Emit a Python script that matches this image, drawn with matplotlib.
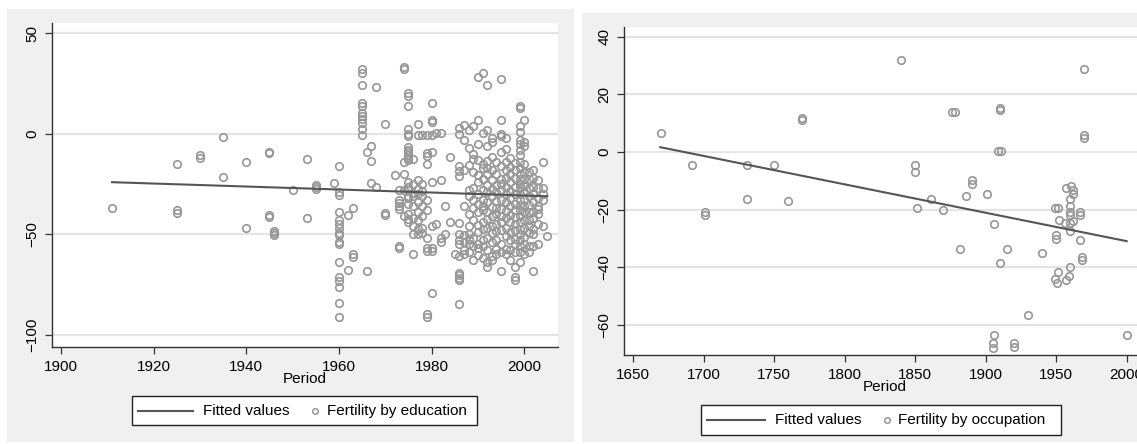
import matplotlib

matplotlib.use("Agg")
import matplotlib.pyplot as plt
from matplotlib.lines import Line2D
from matplotlib.patches import Rectangle

plt.rcParams["font.family"] = ["Liberation Sans", "DejaVu Sans"]

W, H = 1137, 444

# ---------------------------------------------------------------------------
# Left panel: fertility by education (period -> value), grouped by year
# ---------------------------------------------------------------------------
edu_years = [1911, 1925, 1930, 1935, 1940, 1945, 1946, 1950, 1953, 1955, 1959,
             1960, 1962, 1963, 1965, 1966, 1967, 1968, 1970,
             1972, 1973, 1974, 1975, 1976, 1977, 1978, 1979, 1980, 1981, 1982,
             1983, 1984, 1985, 1986, 1987, 1988, 1989, 1990, 1991, 1992, 1993,
             1994, 1995, 1996, 1997, 1998, 1999, 2000, 2001, 2002, 2003, 2004,
             2005]
edu_values = [
    [-37],
    [-15, -38, -39.5],
    [-10.5, -12],
    [-1.5, -21.5],
    [-14, -47],
    [-9, -9.5, -40.5, -41.5],
    [-48.5, -49.5, -50.5],
    [-28],
    [-12.5, -42],
    [-25.5, -26.5, -27.5],
    [-24.5],
    [-16, -29, -30.5, -39, -43, -45, -47, -49.5, -50.5, -54, -55, -64, -71,
     -73, -76, -84, -91],
    [-40.5, -67.5],
    [-37, -60, -61.5],
    [32, 30, 24, 15, 14, 10.5, 9, 7.5, 5.5, 2.5, -0.5],
    [-9, -68],
    [-6, -13.5, -24.5],
    [23, -26.5],
    [5, -39.5, -40.5],
    [-20.5],
    [-28, -33, -34.5, -36, -37.5, -56, -57],
    [33, 32, -14, -20, -28, -41],
    [20, 18.5, 14, 2.5, 0, -1, -6.5, -8, -9, -10.5, -12, -13, -24, -26.5,
     -28, -31, -32, -35, -40, -42.5, -44],
    [-12.5, -25, -29.5, -31, -36, -42, -46, -50, -60],
    [5, -0.5, -23, -27.5, -30, -34, -39, -43, -47.5, -50],
    [-0.5, -25, -28.5, -31, -36, -41, -47, -49.5],
    [-0.5, -9.5, -11, -15, -33, -38, -52, -57, -58.5, -89.5, -91],
    [15, 7, 6, -0.5, -9, -24, -46, -57, -58.5, -79],
    [0.5, -45],
    [0.5, -23, -52, -54],
    [-36, -50],
    [-11.5, -44],
    [-60],
    [3, 0, -16, -18.5, -21, -44.5, -50, -53, -55, -61, -69, -70, -71.5, -72.5,
     -84.5],
    [4.5, -3, -18, -36, -50.5, -54, -58, -60],
    [2, -7, -15.5, -28, -31, -40, -46, -50, -52.5, -55, -59],
    [4, -10, -12.5, -19, -27, -33, -37, -43, -52, -56, -63],
    [28, 7, -5, -13, -20.5, -24, -30, -35, -39, -45.5, -49, -55, -57, -60.5],
    [30, 0.5, -15, -17, -22.5, -28, -33, -36, -38, -44, -47.5, -53, -56, -62],
    [24, 2, -6, -13.5, -17, -20, -25.5, -29, -34, -39, -42.5, -47, -52, -58,
     -64, -66],
    [-2, -4, -11.5, -18, -23, -27.5, -31, -36.5, -41, -46, -49.5, -54, -61,
     -63],
    [-14, -20, -25.5, -29, -33.5, -37, -40, -45, -48.5, -53, -57.5, -60],
    [27, 7, 0, -1, -9, -16, -22.5, -25, -28, -33, -37.5, -41, -44, -48, -55,
     -59, -68],
    [-2, -7.5, -14, -18, -22, -26.5, -30, -34, -38.5, -42, -47, -51, -57.5,
     -60],
    [-12, -16.5, -20, -24, -28.5, -32, -36, -40.5, -44, -49, -53, -58, -63],
    [-14.5, -18, -22, -26.5, -30, -35, -38, -41.5, -45, -48, -52.5, -55,
     -59, -66, -71, -72.5],
    [14, 13, 4, 1, -3, -5, -8, -10.5, -14, -17, -20, -22.5, -25, -27, -30,
     -33, -35.5, -38, -41, -44, -47.5, -50, -53, -56, -59, -64],
    [7, -4, -6, -15, -19, -22.5, -26, -29, -32.5, -36, -39, -43, -47, -51.5,
     -55, -60],
    [-19, -22.5, -27, -31, -35.5, -39, -43, -46, -49.5, -56, -59],
    [-18, -22, -26.5, -30, -34, -39, -42, -47.5, -50, -56, -68],
    [-23, -27, -32, -36, -37.5, -40, -45, -55],
    [-14, -27, -30, -33, -46],
    [-51],
]
edu_fit_x = [1911, 2005]
edu_fit_y = [-24.1, -31.1]

# ---------------------------------------------------------------------------
# Right panel: fertility by occupation
# ---------------------------------------------------------------------------
occ_period = [1670, 1692, 1701, 1701, 1731, 1731, 1750, 1760, 1770, 1770,
              1840, 1850, 1850, 1851, 1861, 1870, 1876, 1878, 1882, 1886,
              1890, 1890, 1901, 1906, 1906, 1905, 1905, 1910, 1910, 1909,
              1911, 1910.5, 1915, 1920, 1920, 1930, 1940, 1949, 1951, 1950,
              1950, 1951, 1949, 1950.5, 1952, 1957, 1960.5, 1962, 1962, 1960,
              1960, 1960, 1960, 1967, 1967, 1956, 1960, 1962, 1960, 1967,
              1968.5, 1968.5, 1960, 1959, 1957, 1970, 1970, 1970, 2000]
occ_value = [6.7, -4.4, -20.8, -22.0, -4.4, -16.2, -4.4, -17.0, 11.0, 11.8,
             31.9, -4.4, -6.9, -19.4, -16.2, -20.1, 13.8, 13.8, -33.5, -15.4,
             -9.8, -11.0, -14.6, -24.9, -63.5, -66.3, -67.8, 14.6, 15.4, 0.3,
             0.3, -38.4, -33.5, -66.4, -67.6, -56.4, -35.1, -19.4, -19.4, -28.9,
             -30.0, -41.5, -44.2, -45.3, -23.4, -12.4, -11.6, -13.2, -14.7, -16.2,
             -18.7, -20.8, -22.0, -20.8, -22.0, -24.5, -24.7, -23.9, -27.4, -30.4,
             -36.4, -37.6, -39.9, -43.0, -44.5, 28.9, 5.0, 6.0, -63.5]
occ_fit_x = [1669.3, 2000]
occ_fit_y = [1.7, -30.9]

edu_ticks_x = [1900, 1920, 1940, 1960, 1980, 2000]
edu_ticks_y = [50, 0, -50, -100]
occ_ticks_x = [1650, 1700, 1750, 1800, 1850, 1900, 1950, 2000]
occ_ticks_y = [40, 20, 0, -20, -40, -60]

PANEL_GREY = "#f0f0f0"
GRID = "#e4e4e4"
MARKER = "#979797"
FIT = "#555555"
AXIS = "#333333"
FS = 11


def px_box(x0, y0, x1, y1):
    """Pixel box (top-left origin) -> figure fraction [left, bottom, w, h]."""
    return [x0 / W, 1 - y1 / H, (x1 - x0) / W, (y1 - y0) / H]


def panel(fig, grey_box, ax_box, xs, ys, fit_x, fit_y, xlim, ylim, xt, yt):
    l, b, w, h = px_box(*grey_box)
    fig.add_artist(Rectangle((l, b), w, h, transform=fig.transFigure,
                             facecolor=PANEL_GREY, edgecolor="none", zorder=0))
    ax = fig.add_axes(px_box(*ax_box))
    ax.set_facecolor("white")
    ax.plot(xs, ys, "o", ms=5.4, mfc="none", mec=MARKER, mew=1.2,
            zorder=3, clip_on=False)
    ax.plot(fit_x, fit_y, color=FIT, lw=1.5, zorder=4)
    ax.set_xlim(*xlim)
    ax.set_ylim(*ylim)
    ax.set_xticks(xt)
    ax.set_yticks(yt)
    for v in yt:
        ax.axhline(v, color=GRID, lw=1.6, zorder=1)
    for s in ("top", "right"):
        ax.spines[s].set_visible(False)
    for s in ("left", "bottom"):
        ax.spines[s].set_color(AXIS)
        ax.spines[s].set_linewidth(1.0)
    ax.tick_params(direction="out", length=5, width=0.9, color=AXIS,
                   labelsize=FS, pad=4)
    for t in ax.get_yticklabels():
        t.set_rotation(90)
        t.set_va("center")
    ax.set_xlabel("Period", fontsize=FS, labelpad=-1)
    return ax


def key(fig, box, line_x, text1_x, marker_x, text2_x, label1, label2):
    x0, y0, x1, y1 = box
    l, b, w, h = px_box(*box)
    fig.add_artist(Rectangle((l, b), w, h, transform=fig.transFigure,
                             facecolor="white", edgecolor="#222222", lw=1.0,
                             zorder=5))
    ym = 1 - (y0 + y1) / 2 / H
    fig.add_artist(Line2D([line_x[0] / W, line_x[1] / W], [ym, ym],
                          transform=fig.transFigure, color=FIT, lw=1.5,
                          zorder=6))
    fig.add_artist(Line2D([marker_x / W], [ym], transform=fig.transFigure,
                          marker="o", ms=4, mfc="none", mec=MARKER, mew=1.1,
                          zorder=6))
    fig.text(text1_x / W, ym, label1, fontsize=FS, va="center", ha="left",
             zorder=6)
    fig.text(text2_x / W, ym, label2, fontsize=FS, va="center", ha="left",
             zorder=6)


fig = plt.figure(figsize=(W / 100, H / 100), dpi=100)
fig.patch.set_facecolor("white")

edu_x = [y for y, vals in zip(edu_years, edu_values) for _ in vals]
edu_y = [v for vals in edu_values for v in vals]

panel(fig, (7, 9, 574, 442), (52, 23, 558, 347), edu_x, edu_y,
      edu_fit_x, edu_fit_y, (1898.05, 2007.3), (-106, 55.0),
      edu_ticks_x, edu_ticks_y)
panel(fig, (582, 13, 1150, 442), (624, 27, 1145, 355), occ_period, occ_value,
      occ_fit_x, occ_fit_y, (1643.6, 2013.0), (-70.4, 43.4),
      occ_ticks_x, occ_ticks_y)

key(fig, (132, 396, 477, 425), (138, 193), 203, 315, 327,
    "Fitted values", "Fertility by education")
key(fig, (701, 405, 1061, 435), (707, 765), 775, 887, 898,
    "Fitted values", "Fertility by occupation")

fig.savefig("out.png", dpi=100)
